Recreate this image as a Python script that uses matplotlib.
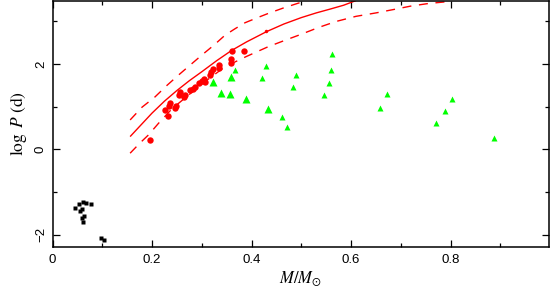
import matplotlib
matplotlib.use("Agg")
import matplotlib.pyplot as plt
from matplotlib.ticker import MultipleLocator

# --- data ---
red_mass = [0.195, 0.226, 0.232, 0.235, 0.237, 0.246, 0.248, 0.255, 0.256, 0.264,
            0.267, 0.276, 0.282, 0.286, 0.295, 0.300, 0.305, 0.307, 0.317, 0.319,
            0.322, 0.335, 0.335, 0.359, 0.359, 0.360, 0.384]
red_logp = [0.21, 0.92, 0.79, 1.02, 1.08, 0.96, 1.02, 1.27, 1.35, 1.23,
            1.27, 1.39, 1.42, 1.46, 1.56, 1.61, 1.64, 1.59, 1.74, 1.82,
            1.88, 1.98, 1.90, 2.02, 2.11, 2.31, 2.31]
red_small_mass = [0.430]
red_small_logp = [2.78]

green_big_mass = [0.322, 0.359, 0.339, 0.357, 0.388, 0.434]
green_big_logp = [1.59, 1.70, 1.33, 1.29, 1.18, 0.95]
green_small_mass = [0.367, 0.429, 0.421, 0.489, 0.483, 0.461, 0.471, 0.562, 0.560,
                    0.555, 0.546, 0.672, 0.658, 0.802, 0.789, 0.771, 0.888]
green_small_logp = [1.85, 1.96, 1.67, 1.75, 1.47, 0.77, 0.53, 2.24, 1.85,
                    1.56, 1.28, 1.30, 0.96, 1.18, 0.90, 0.61, 0.27]

black_mass = [0.045, 0.053, 0.062, 0.068, 0.078, 0.056, 0.059, 0.063, 0.060, 0.062,
              0.097, 0.104]
black_logp = [-1.37, -1.27, -1.24, -1.25, -1.27, -1.45, -1.41, -1.57, -1.62, -1.70,
              -2.08, -2.13]

# model curve (solid) and its upper / lower bounds (dashed)
mid_mass = [0.156, 0.18, 0.20, 0.225, 0.25, 0.275, 0.30, 0.33, 0.36, 0.39, 0.43,
            0.465, 0.50, 0.53, 0.558, 0.585, 0.61]
mid_logp = [0.30, 0.60, 0.85, 1.13, 1.38, 1.61, 1.82, 2.08, 2.32, 2.52, 2.76,
            2.94, 3.09, 3.20, 3.29, 3.38, 3.49]
up_mass = [0.156, 0.18, 0.206, 0.23, 0.253, 0.277, 0.300, 0.325, 0.347, 0.367,
           0.387, 0.41, 0.434, 0.465, 0.497]
up_logp = [0.69, 0.99, 1.23, 1.50, 1.74, 1.98, 2.21, 2.45, 2.68, 2.83,
           2.97, 3.08, 3.19, 3.32, 3.44]
low_mass = [0.156, 0.175, 0.193, 0.213, 0.24, 0.273, 0.31, 0.347, 0.39, 0.434,
            0.47, 0.50, 0.535, 0.57, 0.61, 0.65, 0.69, 0.72, 0.755, 0.79]
low_logp = [-0.09, 0.14, 0.34, 0.61, 0.95, 1.27, 1.62, 1.94, 2.18, 2.41,
            2.57, 2.70, 2.86, 3.00, 3.12, 3.20, 3.29, 3.36, 3.42, 3.46]

x_ticks = [0, 0.2, 0.4, 0.6, 0.8]
x_ticklabels = ["0", "0.2", "0.4", "0.6", "0.8"]
y_ticks = [-2, 0, 2]
y_ticklabels = ["\u22122", "0", "2"]

plt.rcParams["mathtext.fontset"] = "stix"
plt.rcParams["font.family"] = ["Liberation Sans", "DejaVu Sans"]

fig = plt.figure(figsize=(5.51, 2.91), dpi=100)
ax = fig.add_axes([0.0953, 0.1512, 0.9011, 0.8454])

red = "#ff0000"
green = "#00ff00"
ax.plot(mid_mass, mid_logp, color=red, lw=1.0, solid_capstyle="butt")
ax.plot(up_mass, up_logp, color=red, lw=1.0, dashes=(6.5, 5.5))
ax.plot(low_mass, low_logp, color=red, lw=1.0, dashes=(6.5, 5.5))

ax.plot(red_mass, red_logp, "o", color=red, ms=4.6, mec="none")
ax.plot(red_small_mass, red_small_logp, "o", color=red, ms=2.5, mec="none")
ax.plot(green_big_mass, green_big_logp, "^", color=green, ms=6.3, mec="none")
ax.plot(green_small_mass, green_small_logp, "^", color=green, ms=3.8, mec="none")
ax.plot(black_mass, black_logp, "s", color="black", ms=3.5, mec="none")

ax.set_xlim(0, 0.998)
ax.set_ylim(-2.29, 3.48)

ax.set_xticks(x_ticks)
ax.set_xticklabels(x_ticklabels)
ax.set_yticks(y_ticks)
ax.set_yticklabels(y_ticklabels, rotation=90, va="center")
ax.xaxis.set_minor_locator(MultipleLocator(0.1))
ax.yaxis.set_minor_locator(MultipleLocator(1))
ax.tick_params(which="both", direction="in", top=True, right=True, width=0.9,
               labelsize=9.5, colors="black")
ax.tick_params(which="major", length=5)
ax.tick_params(which="minor", length=3)
ax.tick_params(axis="x", pad=5)
ax.tick_params(axis="y", pad=4)
for s in ax.spines.values():
    s.set_linewidth(1.1)

ax.set_xlabel(r"$M/M_{\odot}$", fontsize=12, labelpad=2)
ax.set_ylabel(r"$\log\ P\ \mathrm{(d)}$", fontsize=12.5, labelpad=4)

fig.savefig("out.png", dpi=100)
